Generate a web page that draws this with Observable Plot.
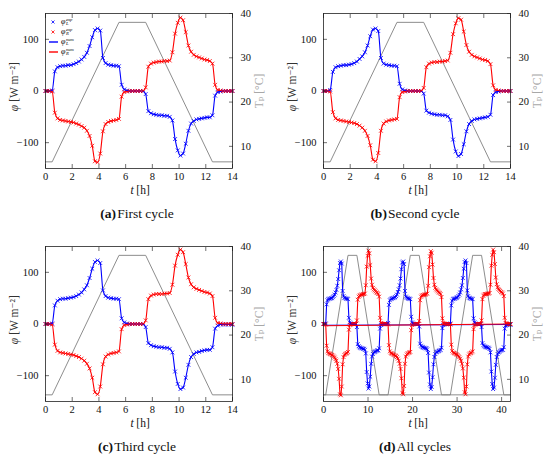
<!DOCTYPE html>
<html><head><meta charset="utf-8">
<script src="https://cdn.jsdelivr.net/npm/d3@7"></script>
<script src="https://cdn.jsdelivr.net/npm/@observablehq/plot@0.6"></script>
<style>
body{margin:0;background:#fff;}
#root{position:relative;width:550px;height:459px;overflow:hidden;font-family:"Liberation Serif",serif;background:#fff;}
.panel{position:absolute;width:272px;height:226px;}
.panel svg.chart{position:absolute;left:0;top:0;}
.panel svg.chart, .panel svg.chart text{font-family:"Liberation Serif","DejaVu Serif",serif !important;}
.cap{position:absolute;top:206px;left:0;width:274px;text-align:center;font-size:13.5px;color:#111;white-space:nowrap;}
.cap b{font-weight:bold;}
.leg{position:absolute;left:48px;top:17px;font-family:"Liberation Serif",serif;}
.row{display:flex;align-items:center;height:10px;}
.row svg{display:block;}
.phi{font-style:italic;font-size:8px;line-height:8px;}
.ss{display:inline-flex;flex-direction:column;font-size:4.6px;line-height:4.4px;margin-left:0.5px;font-style:italic;}
</style></head><body><div id="root"></div><script>
// ---------- data ----------
const tGrid = [0, 0.1, 0.3, 0.5, 0.7, 0.9, 1.1, 1.3, 1.5, 1.7, 1.9, 2.1, 2.3, 2.5, 2.7, 2.9, 3.1, 3.3, 3.5, 3.7,
  3.9, 4.1, 4.3, 4.5, 4.7, 4.9, 5.1, 5.3, 5.5, 5.7, 5.9, 6.1, 6.3, 6.5, 6.7, 6.9, 7.1, 7.3, 7.5, 7.7,
  7.9, 8.1, 8.3, 8.5, 8.7, 8.9, 9.1, 9.3, 9.5, 9.7, 9.9, 10.1, 10.3, 10.5, 10.7, 10.9, 11.1, 11.3, 11.5, 11.7,
  11.9, 12.1, 12.3, 12.5, 12.7, 12.9, 13.1, 13.3, 13.5, 13.7, 13.9, 14];

const cycleA_L = [0,0,0,1, 38,46,48,49,49,50, 50,52,54,57,61,66, 74,87,104,118,121,117, 64,54,51,50,49,49,
  48,12,3,1,0,0, 0,0,0,0,-6,-39, -43,-45,-46,-47,-47,-48, -48,-50,-57,-93,-115,-125,
  -121,-102,-77,-63,-58,-55, -54,-53,-52,-51,-51,-47, -9,-2,-1,0,0,0, 0,0];
const cycleA_R = [0,0,0,-1, -42,-53,-56,-57,-58,-59, -60,-61,-63,-65,-68,-71, -77,-87,-106,-136,-138,-121,
  -78,-64,-60,-58,-57,-56, -54,-11,-2,-1,0,0, 0,0,0,0,7,47, 53,55,56,57,57,58,
  58,59,75,111,132,142, 137,114,88,76,70,67, 65,63,61,60,58,53, 12,2,1,0,0,0, 0,0];

const cycleB_L = [0,0,0,2, 37,46,48,49,50,50, 51,52,54,57,62,67, 75,88,106,119,121,116, 64,53,51,50,49,49,
  48,14,3,1,0,0, 0,0,0,0,-5,-38, -42,-44,-45,-46,-46,-47, -47,-49,-56,-94,-117,-126,
  -122,-103,-78,-64,-58,-55, -54,-53,-52,-51,-50,-46, -8,-2,-1,0,0,0, 0,0];
const cycleB_R = [0,0,0,-1, -41,-53,-56,-57,-58,-59, -60,-61,-62,-64,-67,-71, -77,-87,-105,-133,-136,-120,
  -77,-63,-59,-57,-56,-55, -54,-12,-2,-1,0,0, 0,0,0,0,6,46, 53,55,56,56,57,57,
  58,59,74,110,131,141, 138,115,89,76,70,67, 65,63,61,60,58,52, 11,2,1,0,0,0, 0,0];

const cycleC_L = [0,0,0,1, 36,45,48,49,49,50, 51,52,54,57,61,67, 75,89,107,120,123,118, 65,54,51,50,49,49,
  48,11,3,1,0,0, 0,0,0,0,-6,-37, -41,-43,-44,-45,-45,-46, -46,-48,-55,-92,-116,-126,
  -123,-104,-79,-64,-58,-55, -54,-52,-51,-50,-50,-45, -9,-3,-1,-1,-1,-1, -1,-1];
const cycleC_R = [0,0,0,-1, -40,-52,-55,-56,-57,-58, -59,-60,-62,-64,-67,-71, -77,-86,-104,-132,-136,-121,
  -78,-63,-59,-57,-56,-55, -53,-10,-2,-1,0,0, 0,0,0,0,7,48, 55,57,58,58,58,59,
  59,60,76,113,134,144, 139,116,90,77,71,68, 66,64,62,61,59,54, 12,2,1,0,0,0, 0,0];

const tempTimes = [0, 0.5, 5.5, 7.5, 12.5, 14];
const tempValues = [6.5, 6.5, 38, 38, 6.5, 6.5];

const cycleLength = 14;
// closing segment of the concatenated record (all cycles)
const closeTime = 0, closeL = -2.5, closeR = -3.5, closeTemp = 6.5;

const xTicksCycle = [0, 2, 4, 6, 8, 10, 12, 14];
const xTicksAll = [0, 10, 20, 30, 40];
const fluxTicks = [-100, 0, 100];
const tempTicks = [10, 20, 30, 40];
const captions = [["(a)", "First cycle"], ["(b)", "Second cycle"], ["(c)", "Third cycle"], ["(d)", "All cycles"]];

// ---------- build tables ----------
const cycles = [[cycleA_L, cycleA_R], [cycleB_L, cycleB_R], [cycleC_L, cycleC_R]];
const cycleRows = cycles.map(([L, R]) => tGrid.map((t, i) => ({t, L: L[i], R: R[i]})));
const tempRows = tempTimes.map((t, i) => ({t, T: tempValues[i]}));
const allRows = cycleRows.flatMap((rows, k) => rows.map(d => ({t: d.t + cycleLength * k, L: d.L, R: d.R})));
const allTemp = [0, 1, 2].flatMap(k => tempRows.map(d => ({t: d.t + cycleLength * k, T: d.T})));

const BLUE = "#0000ff", RED = "#ff0000", GRAY = "#808080";
const FONT = '"Liberation Serif", "DejaVu Serif", serif';
const root = document.getElementById("root");

function panel(left, top, xMax, xTicks, rows, temp, cap, opts = {}) {
  const W = 272, H = 200;
  const common = {width: W, height: H, marginLeft: 45, marginRight: 40, marginTop: 13, marginBottom: 32,
    style: {fontFamily: FONT, fontSize: "10.5px", background: "transparent", overflow: "visible", color: "#111"}};
  const div = document.createElement("div");
  div.className = "panel"; div.style.left = left + "px"; div.style.top = top + "px";

  const tMarks = [Plot.line(temp, {x: "t", y: "T", stroke: GRAY, strokeWidth: 0.9})];
  if (opts.closeTempLine) tMarks.push(Plot.line(opts.closeTempLine, {x: "t", y: "T", stroke: GRAY, strokeWidth: 0.9}));
  tMarks.push(
    Plot.axisY(tempTicks, {anchor: "right", tickSize: -4, tickPadding: 12, label: null, strokeWidth: 0.6}),
    Plot.text(["Tₚ [°C]"], {frameAnchor: "right", dx: 27, rotate: -90, textAnchor: "middle", fill: "#a8a8a8", fontSize: 11.5, fontFamily: FONT})
  );
  const tPlot = Plot.plot({...common, x: {domain: [0, xMax], axis: null}, y: {domain: [5, 40]}, marks: tMarks});

  const curve = opts.curve || "monotone-x";
  const fMarks = [
    Plot.dot(rows, {x: "t", y: "L", symbol: "times", r: 1.9, stroke: BLUE, strokeWidth: 0.8}),
    Plot.dot(rows, {x: "t", y: "R", symbol: "times", r: 1.9, stroke: RED, strokeWidth: 0.8}),
    Plot.line(rows, {x: "t", y: "L", stroke: BLUE, strokeWidth: 1.1, curve}),
    Plot.line(rows, {x: "t", y: "R", stroke: RED, strokeWidth: 1.1, curve})
  ];
  if (opts.closeL) fMarks.push(
    Plot.line(opts.closeL, {x: "t", y: "v", stroke: BLUE, strokeWidth: 1.1}),
    Plot.line(opts.closeR, {x: "t", y: "v", stroke: RED, strokeWidth: 1.1}));
  fMarks.push(
    Plot.frame({stroke: "#222", strokeWidth: 0.8}),
    Plot.axisX(xTicks, {anchor: "bottom", tickSize: -4, tickPadding: 8, label: null, strokeWidth: 0.6}),
    Plot.axisX(xTicks, {anchor: "top", tickSize: -4, tickFormat: () => "", label: null, strokeWidth: 0.6}),
    Plot.axisY(fluxTicks, {anchor: "left", tickSize: -4, tickPadding: 11, label: null, strokeWidth: 0.6}),
    Plot.text(["φ"], {frameAnchor: "left", dx: -31, dy: 17, rotate: -90, textAnchor: "middle", fill: "#333", fontSize: 11.5, fontStyle: "italic", fontFamily: FONT}),
    Plot.text(["[W m⁻²]"], {frameAnchor: "left", dx: -31, dy: -9, rotate: -90, textAnchor: "middle", fill: "#333", fontSize: 11.5, fontFamily: FONT}),
    Plot.text(["t"], {frameAnchor: "bottom", dy: 25, dx: -7, textAnchor: "middle", fill: "#111", fontSize: 11.5, fontStyle: "italic", fontFamily: FONT}),
    Plot.text(["[h]"], {frameAnchor: "bottom", dy: 25, dx: 4, textAnchor: "middle", fill: "#111", fontSize: 11.5, fontFamily: FONT})
  );
  const fPlot = Plot.plot({...common, x: {domain: [0, xMax]}, y: {domain: [-150, 150]}, marks: fMarks});

  tPlot.classList.add("chart");
  fPlot.classList.add("chart");
  div.appendChild(tPlot);
  div.appendChild(fPlot);
  const c = document.createElement("div");
  c.className = "cap";
  c.innerHTML = `<b>${cap[0]}</b>&#8202;${cap[1]}`;
  div.appendChild(c);
  if (opts.legend) div.appendChild(opts.legend);
  root.appendChild(div);
}

function legend() {
  const items = [[BLUE, "mark", "exp", "L"], [RED, "mark", "exp", "R"], [BLUE, "line", "num", "L"], [RED, "line", "num", "R"]];
  const lg = document.createElement("div");
  lg.className = "leg";
  lg.innerHTML = items.map(([c, k, sup, sub]) => {
    const sym = k === "mark"
      ? `<svg width="11" height="8"><path d="M3.5,2.5L6.5,5.5M6.5,2.5L3.5,5.5" stroke="${c}" stroke-width="0.8"/></svg>`
      : `<svg width="11" height="8"><line x1="1" y1="4" x2="10" y2="4" stroke="${c}" stroke-width="1.4"/></svg>`;
    return `<div class="row">${sym}<span class="phi">&nbsp;φ</span><span class="ss"><span>${sup}</span><span>${sub}</span></span></div>`;
  }).join("");
  return lg;
}

panel(0, 0, 14, xTicksCycle, cycleRows[0], tempRows, captions[0], {legend: legend()});
panel(278, 0, 14, xTicksCycle, cycleRows[1], tempRows, captions[1]);
panel(0, 233, 14, xTicksCycle, cycleRows[2], tempRows, captions[2]);
const lastRow = allRows[allRows.length - 1], lastTemp = allTemp[allTemp.length - 1];
panel(278, 233, 42, xTicksAll, allRows, allTemp, captions[3], {
  curve: "linear",
  closeL: [{t: lastRow.t, v: lastRow.L}, {t: closeTime, v: closeL}],
  closeR: [{t: lastRow.t, v: lastRow.R}, {t: closeTime, v: closeR}],
  closeTempLine: [{t: lastTemp.t, T: lastTemp.T}, {t: closeTime, T: closeTemp}]
});
</script></body></html>
